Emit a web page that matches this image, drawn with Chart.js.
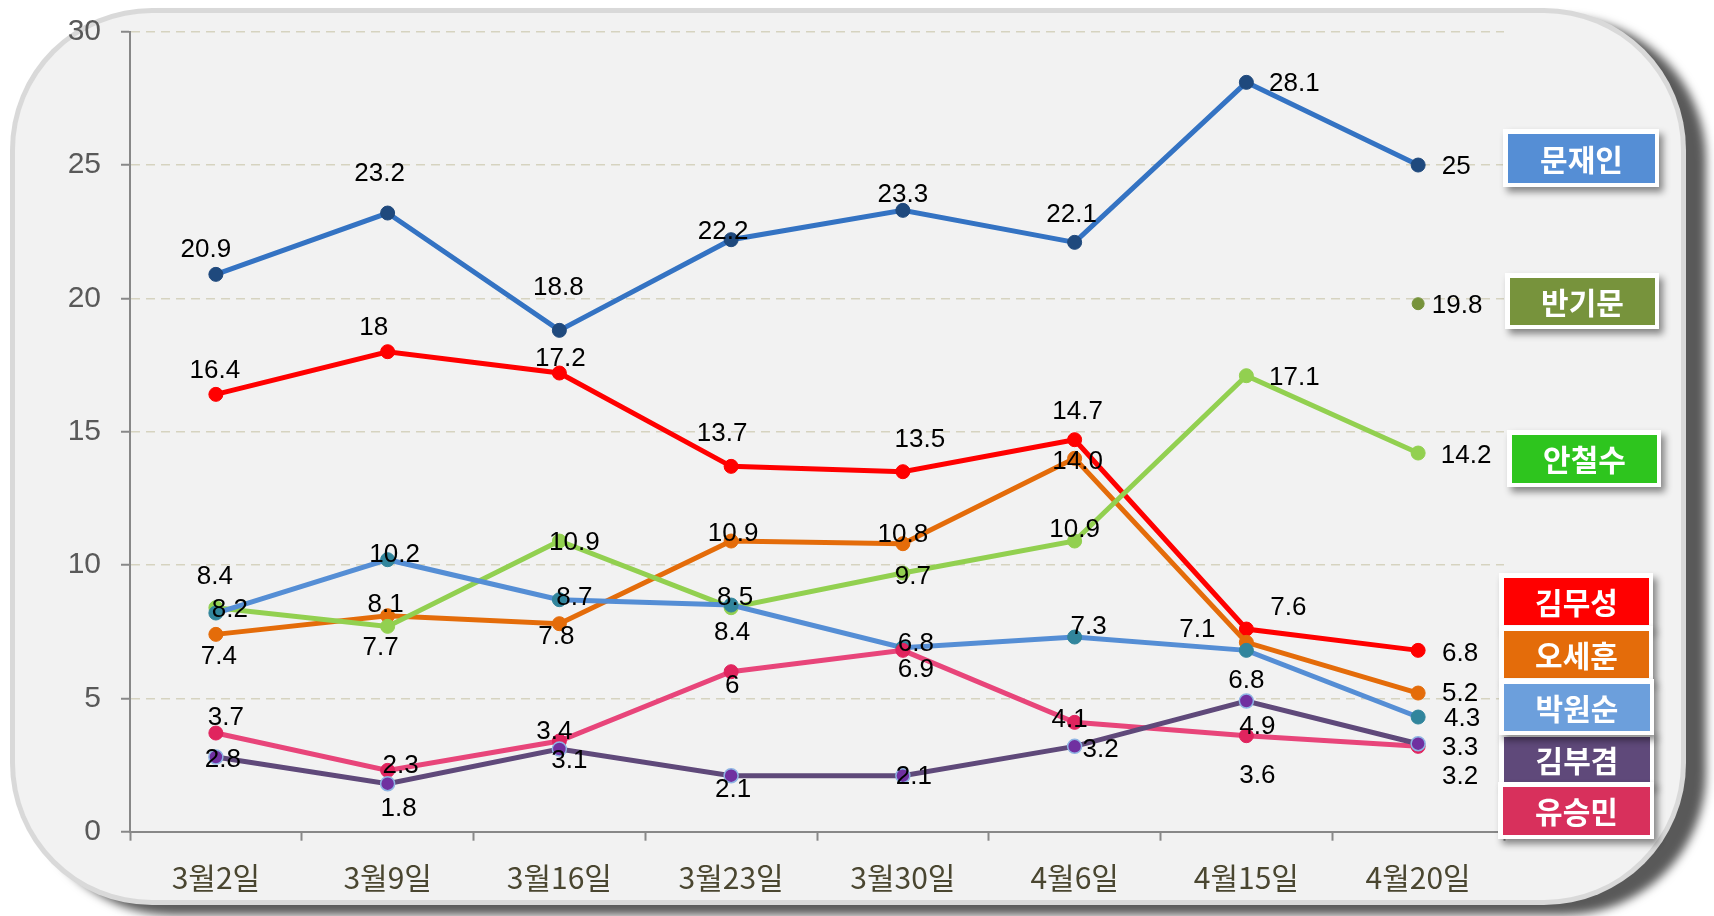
<!DOCTYPE html>
<html><head><meta charset="utf-8">
<script src="https://cdn.jsdelivr.net/npm/chart.js@4.4.1/dist/chart.umd.min.js"></script>
<style>html,body{margin:0;padding:0;background:#fff;}canvas{display:block;}</style>
</head><body>
<canvas id="c" width="1714" height="916"></canvas>
<script>
// ---- data ----
const categories = ['3월2일','3월9일','3월16일','3월23일','3월30일','4월6일','4월15일','4월20일'];
const yTickValues = [0,5,10,15,20,25,30];
const seriesNames = ['문재인','반기문','안철수','김무성','오세훈','박원순','김부겸','유승민'];
const moonJaein   = [20.9,23.2,18.8,22.2,23.3,22.1,28.1,25];
const banKimoon   = [null,null,null,null,null,null,null,19.8];
const ahnCheolsoo = [8.4,7.7,10.9,8.4,9.7,10.9,17.1,14.2];
const kimMusung   = [16.4,18,17.2,13.7,13.5,14.7,7.6,6.8];
const ohSehoon    = [7.4,8.1,7.8,10.9,10.8,14.0,7.1,5.2];
const parkWonsoon = [8.2,10.2,8.7,8.5,6.9,7.3,6.8,4.3];
const kimBookyum  = [2.8,1.8,3.1,2.1,2.1,3.2,4.9,3.3];
const yooSeungmin = [3.7,2.3,3.4,6,6.8,4.1,3.6,3.2];
const ohSehoonText = ['7.4','8.1','7.8','10.9','10.8','14.0','7.1','5.2'];

// ---- label placement (pixel offsets from each point) ----
const labelOffsets = {
  '문재인': [[-10,-25],[-8,-39],[-1,-43],[-8,-8],[0,-16],[-3,-28],[48,1],[38,2]],
  '반기문': [null,null,null,null,null,null,null,[39,2]],
  '안철수': [[-1,-31],[-7,21],[15,2],[1,25],[10,4],[0,-11],[48,2],[48,3]],
  '김무성': [[-1,-24],[-14,-24],[1,-14],[-9,-33],[17,-32],[3,-28],[42,-21],[42,3]],
  '오세훈': [[3,22],[-2,-11],[-3,13],[2,-7],[0,-9],[3,3],[-49,-13],[42,1]],
  '박원순': [[14,-3],[7,-5],[15,-2],[4,-7],[13,22],[14,-10],[0,30],[44,2]],
  '김부겸': [[7,3],[11,25],[10,12],[2,14],[11,1],[26,3],[11,26],[42,4]],
  '유승민': [[10,-15],[13,-5],[-5,-9],[1,14],[13,-7],[-5,-3],[11,40],[42,30]]
};
const legendBoxes = {
  '문재인': {x:1508,y:134,w:147,h:49,color:'#558ed5'},
  '반기문': {x:1510,y:278,w:145,h:47,color:'#77933c'},
  '안철수': {x:1512,y:435,w:145,h:48,color:'#2ec51e'},
  '김무성': {x:1504,y:578,w:145,h:47,color:'#ff0000'},
  '오세훈': {x:1504,y:631,w:145,h:47,color:'#e46c0a'},
  '김부겸': {x:1504,y:737,w:146,h:45,color:'#5f497a'},
  '박원순': {x:1504,y:684,w:146,h:47,color:'#6c9fdc'},
  '유승민': {x:1503,y:787,w:147,h:48,color:'#d8305c'}
};

function ds(label, data, line, point, order, extra) {
  return Object.assign({
    label, data, borderColor: line, backgroundColor: point,
    pointBackgroundColor: point, pointBorderColor: point,
    borderWidth: 5, pointRadius: 7, pointBorderWidth: 1,
    tension: 0, order, spanGaps: false
  }, extra || {});
}

const datasets = [
  ds(seriesNames[0], moonJaein, '#3473c3', '#1f497d', 8),
  ds(seriesNames[1], banKimoon, '#77933c', '#77933c', 7, {pointRadius:6}),
  ds(seriesNames[2], ahnCheolsoo, '#92d050', '#92d050', 4),
  ds(seriesNames[3], kimMusung, '#ff0000', '#ff0000', 6),
  ds(seriesNames[4], ohSehoon, '#e46c0a', '#e46c0a', 5, {labelText: ohSehoonText}),
  ds(seriesNames[5], parkWonsoon, '#558ed5', '#31859c', 3),
  ds(seriesNames[6], kimBookyum, '#5f497a', '#7030a0', 1, {pointBorderColor:'#8eb4e3', pointBorderWidth:1.5}),
  ds(seriesNames[7], yooSeungmin, '#e8457a', '#e0245e', 2)
];

const panelPlugin = {
  id: 'panel',
  beforeDraw(chart) {
    const ctx = chart.ctx;
    ctx.save();
    ctx.fillStyle = '#ffffff';
    ctx.fillRect(0, 0, chart.width, chart.height);
    ctx.shadowColor = 'rgba(0,0,0,0.65)';
    ctx.shadowBlur = 10;
    ctx.shadowOffsetX = 20;
    ctx.shadowOffsetY = 10;
    ctx.fillStyle = '#d9d9d9';
    ctx.beginPath();
    ctx.roundRect(10, 8, 1676, 897, 142);
    ctx.fill();
    ctx.shadowColor = 'transparent';
    ctx.fillStyle = '#f2f2f2';
    ctx.beginPath();
    ctx.roundRect(15, 13, 1666, 887, 137);
    ctx.fill();
    ctx.restore();
  }
};

const labelPlugin = {
  id: 'pointLabels',
  afterDatasetsDraw(chart) {
    const ctx = chart.ctx;
    ctx.save();
    ctx.font = '26px "Liberation Sans", Arial, sans-serif';
    ctx.fillStyle = '#000000';
    ctx.textAlign = 'center';
    ctx.textBaseline = 'middle';
    chart.data.datasets.forEach((d, i) => {
      const meta = chart.getDatasetMeta(i);
      const offs = labelOffsets[d.label];
      meta.data.forEach((el, j) => {
        const v = d.data[j];
        if (v === null || v === undefined) return;
        const o = offs[j] || [0, 0];
        const txt = d.labelText ? d.labelText[j] : String(v);
        ctx.fillText(txt, el.x + o[0], el.y + o[1]);
      });
    });
    ctx.restore();
  }
};

const legendPlugin = {
  id: 'boxLegend',
  afterDraw(chart) {
    const ctx = chart.ctx;
    Object.keys(legendBoxes).forEach(name => {
      const b = legendBoxes[name];
      ctx.save();
      ctx.shadowColor = 'rgba(0,0,0,0.45)';
      ctx.shadowBlur = 7;
      ctx.shadowOffsetX = 4;
      ctx.shadowOffsetY = 5;
      ctx.fillStyle = '#ffffff';
      ctx.fillRect(b.x - 5, b.y - 5, b.w + 9, b.h + 9);
      ctx.restore();
      ctx.save();
      ctx.fillStyle = b.color;
      ctx.fillRect(b.x, b.y, b.w, b.h);
      ctx.fillStyle = '#ffffff';
      ctx.font = 'bold 30px "Noto Sans CJK KR", sans-serif';
      ctx.textAlign = 'center';
      ctx.textBaseline = 'middle';
      ctx.fillText(name, b.x + b.w / 2, b.y + b.h / 2 + 1);
      ctx.restore();
    });
  }
};

new Chart(document.getElementById('c'), {
  type: 'line',
  data: { labels: categories, datasets },
  plugins: [panelPlugin, labelPlugin, legendPlugin],
  options: {
    responsive: false,
    animation: false,
    devicePixelRatio: 1,
    layout: { padding: { left: 0, right: 210, top: 31.7, bottom: 0 } },
    plugins: { legend: { display: false }, tooltip: { enabled: false } },
    scales: {
      x: {
        type: 'category',
        offset: true,
        grid: { offset: true, drawOnChartArea: false, drawTicks: true, tickLength: 9, tickColor: '#888888', tickWidth: 2 },
        border: { color: '#888888', width: 2 },
        ticks: { color: '#4a4630', padding: 19, font: { family: '"Noto Sans CJK KR", sans-serif', size: 30 }, maxRotation: 0 },
        afterFit(s) { s.height = 84.3; s.paddingLeft = 0; s.paddingRight = 0; }
      },
      y: {
        min: 0, max: 30,
        afterBuildTicks(s) { s.ticks = yTickValues.map(v => ({ value: v })); },
        grid: {
          color: c => (c.tick && c.tick.value === 0) ? 'rgba(0,0,0,0)' : '#d6d3c0',
          lineWidth: 1.5, drawTicks: true, tickLength: 9, tickColor: '#888888', tickWidth: 2, tickBorderDash: []
        },
        border: { color: '#888888', width: 2, dash: [9, 6] },
        ticks: { color: '#595959', padding: 20, font: { family: '"Liberation Sans", Arial, sans-serif', size: 30 } },
        afterFit(s) { s.width = 130; s.paddingTop = 0; s.paddingBottom = 0; }
      }
    }
  }
});
</script>
</body></html>
